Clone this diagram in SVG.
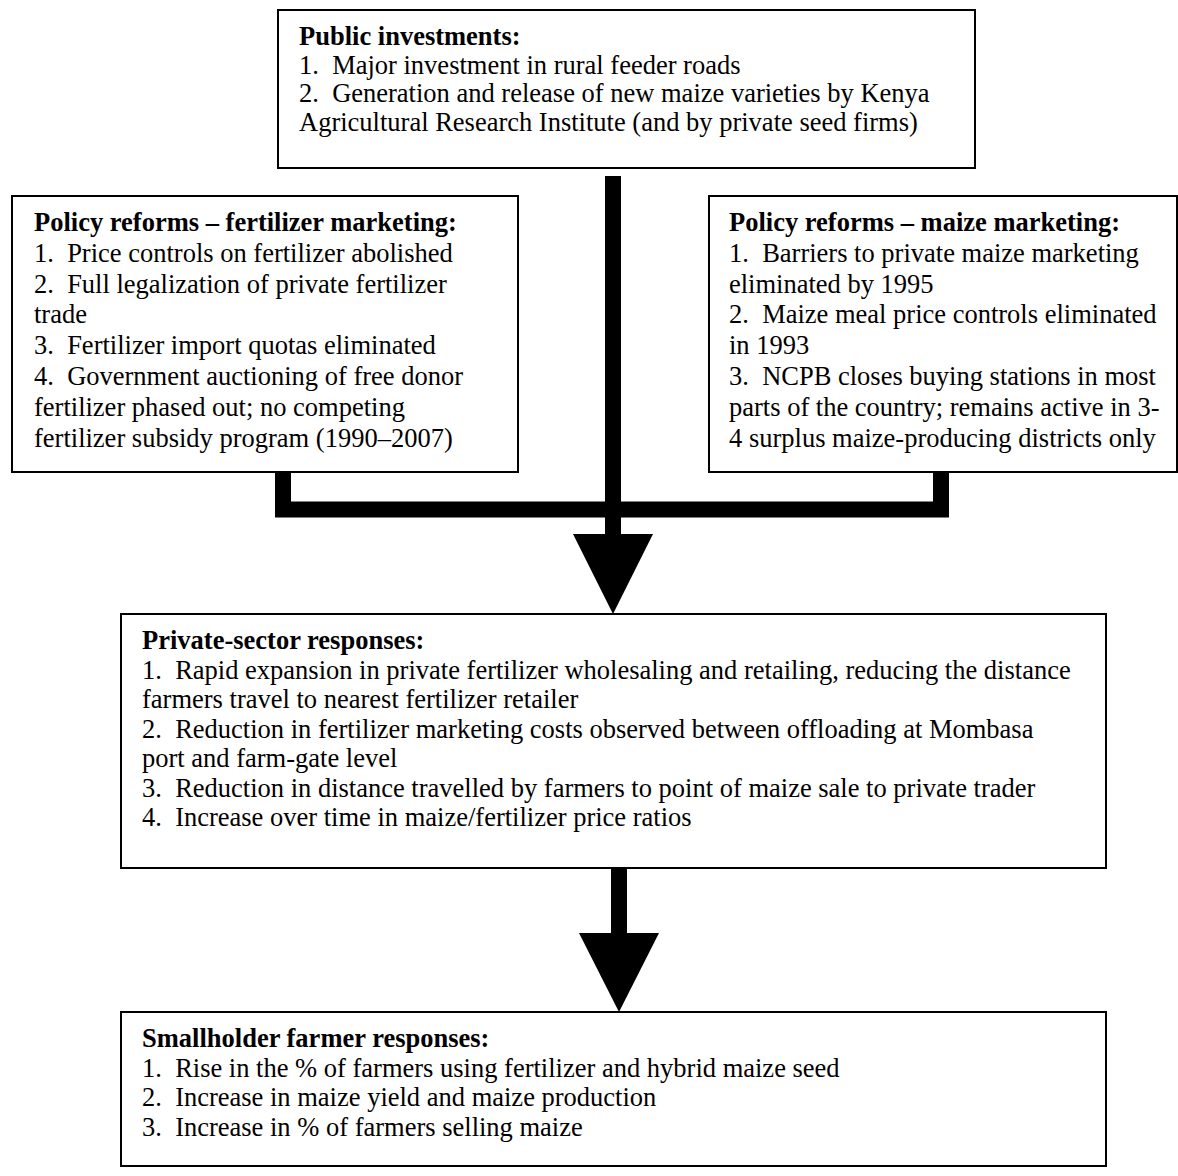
<svg xmlns="http://www.w3.org/2000/svg" width="1178" height="1176" viewBox="0 0 1178 1176" xml:space="preserve">
<style>
.box{fill:#fff;stroke:#000;stroke-width:2}
text{font-family:"Liberation Serif","Times New Roman",serif;font-size:26.5px;fill:#000;white-space:pre}
.t{font-weight:bold}
.bar{fill:none;stroke:#000;stroke-width:16;stroke-linecap:butt;stroke-linejoin:miter}
.head{fill:#000}
</style>
<rect width="1178" height="1176" fill="#fff"/>
<g id="connectors">
<path class="bar" d="M283 472 V509.5 H941 V472"/>
<path class="bar" d="M613 176 V535"/>
<polygon class="head" points="573,534 653,534 613,614"/>
<path class="bar" d="M619 868 V934"/>
<polygon class="head" points="579,933 659,933 619,1012"/>
</g>
<g id="public-investments">
<rect class="box" x="278" y="10" width="697" height="158"/>
<text x="299" y="45" class="t">Public investments:</text>
<text x="299" y="73.5">1.  Major investment in rural feeder roads</text>
<text x="299" y="102">2.  Generation and release of new maize varieties by Kenya</text>
<text x="299" y="130.5">Agricultural Research Institute (and by private seed firms)</text>
</g>
<g id="fertilizer-reforms">
<rect class="box" x="12" y="196" width="506" height="276"/>
<text x="34" y="231" class="t">Policy reforms – fertilizer marketing:</text>
<text x="34" y="261.8">1.  Price controls on fertilizer abolished</text>
<text x="34" y="292.6">2.  Full legalization of private fertilizer</text>
<text x="34" y="323.4">trade</text>
<text x="34" y="354.2">3.  Fertilizer import quotas eliminated</text>
<text x="34" y="385">4.  Government auctioning of free donor</text>
<text x="34" y="415.8">fertilizer phased out; no competing</text>
<text x="34" y="446.6">fertilizer subsidy program (1990–2007)</text>
</g>
<g id="maize-reforms">
<rect class="box" x="709" y="196" width="468" height="276"/>
<text x="729" y="231" class="t">Policy reforms – maize marketing:</text>
<text x="729" y="261.8">1.  Barriers to private maize marketing</text>
<text x="729" y="292.6">eliminated by 1995</text>
<text x="729" y="323.4">2.  Maize meal price controls eliminated</text>
<text x="729" y="354.2">in 1993</text>
<text x="729" y="385">3.  NCPB closes buying stations in most</text>
<text x="729" y="415.8">parts of the country; remains active in 3-</text>
<text x="729" y="446.6">4 surplus maize-producing districts only</text>
</g>
<g id="private-sector">
<rect class="box" x="121" y="614" width="985" height="254"/>
<text x="142" y="649" class="t">Private-sector responses:</text>
<text x="142" y="678.5">1.  Rapid expansion in private fertilizer wholesaling and retailing, reducing the distance</text>
<text x="142" y="708">farmers travel to nearest fertilizer retailer</text>
<text x="142" y="737.5">2.  Reduction in fertilizer marketing costs observed between offloading at Mombasa</text>
<text x="142" y="767">port and farm-gate level</text>
<text x="142" y="796.5">3.  Reduction in distance travelled by farmers to point of maize sale to private trader</text>
<text x="142" y="826">4.  Increase over time in maize/fertilizer price ratios</text>
</g>
<g id="smallholder">
<rect class="box" x="121" y="1012" width="985" height="154"/>
<text x="142" y="1047" class="t">Smallholder farmer responses:</text>
<text x="142" y="1076.5">1.  Rise in the % of farmers using fertilizer and hybrid maize seed</text>
<text x="142" y="1106">2.  Increase in maize yield and maize production</text>
<text x="142" y="1135.5">3.  Increase in % of farmers selling maize</text>
</g>
</svg>
